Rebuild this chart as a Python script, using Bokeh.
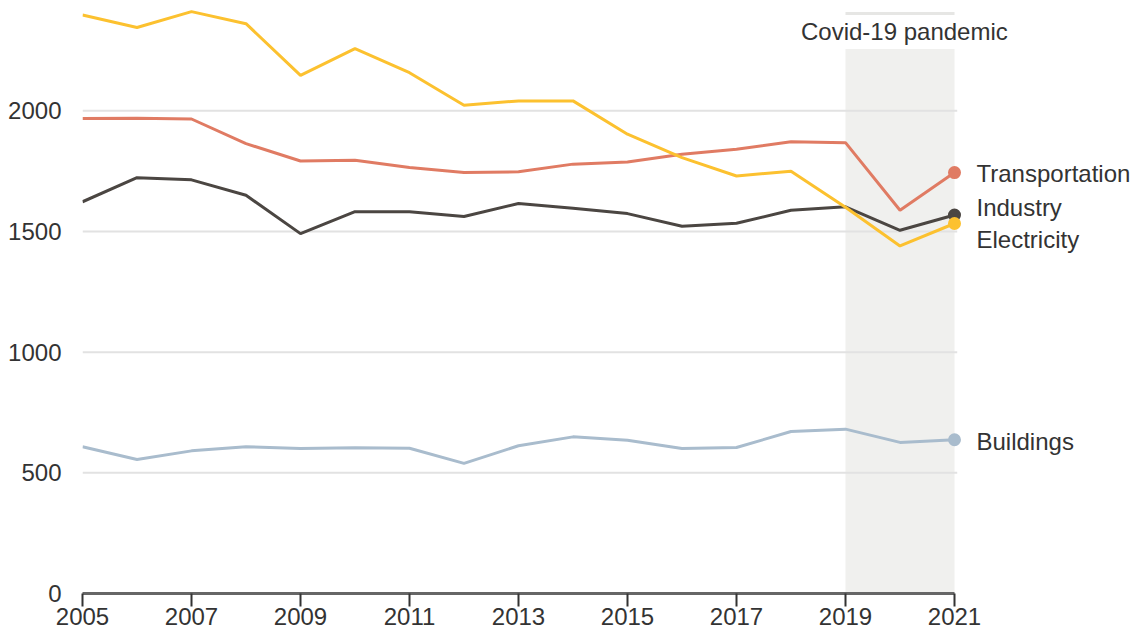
from bokeh.plotting import figure
from bokeh.models import Range1d, FixedTicker, BoxAnnotation, ColumnDataSource
from bokeh.core.properties import value
from bokeh.embed import file_html
from bokeh.resources import INLINE

years = list(range(2005, 2022))
electricity = [2397, 2345, 2411, 2361, 2147, 2258, 2158, 2023, 2041, 2041, 1903, 1806, 1730, 1750, 1600, 1440, 1533]
transportation = [1968, 1969, 1966, 1864, 1792, 1795, 1765, 1744, 1747, 1779, 1788, 1820, 1841, 1872, 1868, 1588, 1744]
industry = [1623, 1723, 1714, 1650, 1491, 1582, 1582, 1562, 1616, 1596, 1574, 1522, 1534, 1588, 1602, 1505, 1568]
buildings = [608, 555, 591, 608, 601, 604, 602, 539, 612, 649, 635, 601, 605, 671, 681, 626, 637]

series_names = ["Buildings", "Industry", "Transportation", "Electricity"]
y_ticks = [0, 500, 1000, 1500, 2000]
x_ticks = list(range(2005, 2022, 2))
pandemic_start, pandemic_end = 2019, 2021
pandemic_label = "Covid-19 pandemic"

colors = {
    "Buildings": "#a9bccd",
    "Industry": "#4b4642",
    "Transportation": "#e07b63",
    "Electricity": "#fcc12f",
}
data = {
    "Buildings": buildings,
    "Industry": industry,
    "Transportation": transportation,
    "Electricity": electricity,
}
label_dy = {"Buildings": 2, "Industry": -8, "Transportation": 1, "Electricity": 16}

FONT = "Liberation Sans"
FS = "24px"
TXT = "#333333"

W, H = 1134, 632
LEFT = 82
PX_PER_YEAR = 54.5
p = figure(width=W, height=H, output_backend="svg", toolbar_location=None,
           x_range=Range1d(2005, 2005 + (W - LEFT) / PX_PER_YEAR), y_range=Range1d(0, 2457),
           min_border_left=LEFT, min_border_right=0, min_border_top=0, min_border_bottom=39)
p.outline_line_color = None
p.xgrid.visible = False
p.ygrid.visible = False
p.background_fill_color = "white"

# pandemic band
p.add_layout(BoxAnnotation(left=pandemic_start, right=pandemic_end, bottom=0, top=2256,
                           fill_color="#f0f0ee", fill_alpha=1, line_color=None, level="underlay"))
p.add_layout(BoxAnnotation(left=pandemic_start, right=pandemic_end, bottom=2397, top=2409,
                           fill_color="#e6e6e4", fill_alpha=1, line_color=None, level="underlay"))

# grid lines
gy = y_ticks[1:]
p.segment(x0=[years[0]] * len(gy), x1=[years[-1] + 0.05] * len(gy), y0=gy, y1=gy,
          line_color="#e2e2e2", line_width=2)

for name in series_names:
    p.line(years, data[name], line_color=colors[name], line_width=3)
    p.scatter([years[-1]], [data[name][-1]], size=13, fill_color=colors[name], line_color=None)

src = ColumnDataSource(dict(
    x=[years[-1]] * len(series_names),
    y=[data[n][-1] for n in series_names],
    text=series_names,
    dy=[label_dy[n] for n in series_names],
))
p.text(x="x", y="y", text="text", y_offset="dy", x_offset=22, source=src,
       text_font=value(FONT), text_font_size=FS, text_color=TXT,
       text_baseline="middle", text_align="left")

p.text(x=[(pandemic_start + pandemic_end) / 2 + 0.08], y=[2327], text=[pandemic_label],
       text_font=value(FONT), text_font_size=FS, text_color=TXT,
       text_baseline="middle", text_align="center")

# axes
xa = p.xaxis[0]
xa.ticker = FixedTicker(ticks=x_ticks)
xa.bounds = (years[0], years[-1])
xa.axis_line_color = "#666666"
xa.axis_line_width = 3
xa.major_tick_line_color = "#333333"
xa.major_tick_line_width = 2
xa.major_tick_in = 0
xa.major_tick_out = 13
xa.minor_tick_line_color = None
xa.major_label_standoff = 1
xa.major_label_text_font = FONT
xa.major_label_text_font_size = FS
xa.major_label_text_color = TXT

ya = p.yaxis[0]
ya.ticker = FixedTicker(ticks=y_ticks)
ya.axis_line_color = None
ya.major_tick_line_color = None
ya.minor_tick_line_color = None
ya.major_label_standoff = 15
ya.major_label_text_font = FONT
ya.major_label_text_font_size = FS
ya.major_label_text_color = TXT

open("out.html", "w").write(file_html(p, INLINE))
